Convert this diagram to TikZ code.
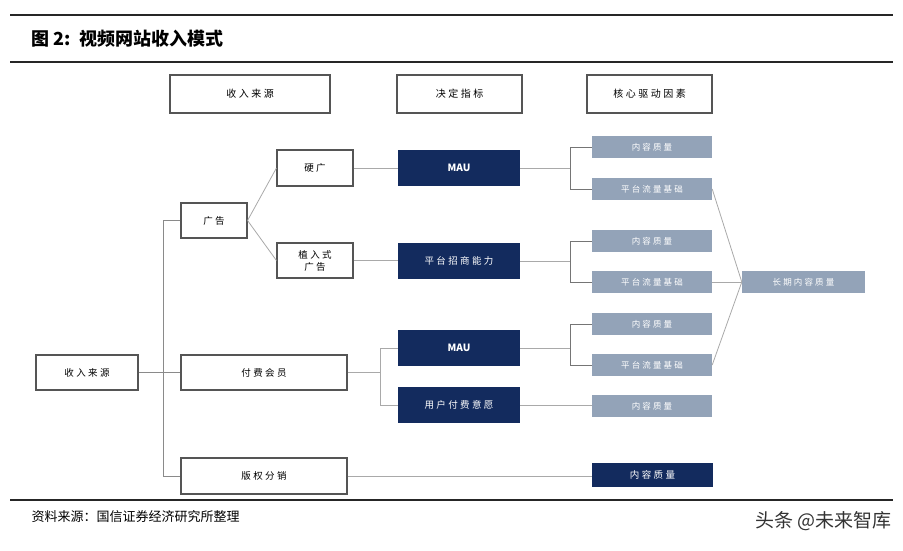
\documentclass[tikz,border=0pt]{standalone}
\usepackage{fontspec}
\setmainfont{Noto Sans CJK SC}
\definecolor{navy}{HTML}{132B5E}
\definecolor{greybox}{HTML}{93A3B8}
\definecolor{linegray}{HTML}{A9A9A9}
\definecolor{trunkgray}{HTML}{8A8A8A}
\definecolor{bordergray}{HTML}{555555}
\begin{document}
\begin{tikzpicture}[x=1pt,y=-1pt,
  sp/.style={font=\fontsize{#1}{12}\selectfont\addfontfeature{LetterSpace=25}},
  wbox/.style={draw=bordergray, line width=1.1pt, fill=white, inner sep=0pt, align=center,
    sp=9.5},
  hbox/.style={wbox, minimum width=125, minimum height=38, sp=10},
  dbox/.style={fill=navy, draw=none, text=white, inner sep=0pt, minimum width=122, minimum height=36,
    sp=9.5},
  maubox/.style={dbox, font=\fontsize{10}{12}\selectfont\bfseries},
  gbox/.style={fill=greybox, draw=none, text=white, inner sep=0pt, minimum width=120, minimum height=22,
    sp=8.5},
  conn/.style={draw=linegray, line width=0.8pt},
  tconn/.style={draw=trunkgray, line width=0.8pt},
  bconn/.style={draw=trunkgray!85!black, line width=0.9pt},
  rule/.style={line width=#1, draw=black!85}
]
\useasboundingbox (0,0) rectangle (903,551);
% frame rules
\coordinate (rl1) at (10,15);  \coordinate (rr1) at (893,15);
\coordinate (rl2) at (10,62);  \coordinate (rr2) at (893,62);
\coordinate (rl3) at (10,500); \coordinate (rr3) at (893,500);
\draw[rule=1.2pt] (rl1) -- (rr1);
\draw[rule=2.4pt] (rl2) -- (rr2);
\draw[rule=2.4pt] (rl3) -- (rr3);
\node[anchor=west, font=\fontsize{18}{20}\selectfont\bfseries] (title) at (28,39) {图 2:\, 视频网站收入模式};
\node[anchor=west, font=\fontsize{13}{15}\selectfont] (src) at (28,517) {资料来源：国信证券经济研究所整理};
\node[anchor=east, font=\fontsize{19}{21}\selectfont, text=black!80] (wm) at (895,521) {头条 @未来智库};

% header boxes
\node[hbox, minimum width=160] (h1) at (250,94) {收入来源};
\node[hbox] (h2) at (459.5,94) {决定指标};
\node[hbox] (h3) at (649.5,94) {核心驱动因素};

% revenue tree
\node[wbox, minimum width=102, minimum height=35] (root) at (87,372.5) {收入来源};
\node[wbox, minimum width=66, minimum height=35] (ad) at (214,220.5) {广告};
\node[wbox, minimum width=76, minimum height=36] (yg) at (315,168) {硬广};
\node[wbox, minimum width=76, minimum height=35] (zr) at (315,260.5) {植入式\\广告};
\node[wbox, minimum width=166, minimum height=35] (fee) at (264,372.5) {付费会员};
\node[wbox, minimum width=166, minimum height=36] (bq) at (264,476) {版权分销};

% indicators
\node[maubox] (mau1) at (459,168) {MAU};
\node[dbox] (zs) at (459,261) {平台招商能力};
\node[maubox] (mau2) at (459,348) {MAU};
\node[dbox] (yf) at (459,405) {用户付费意愿};

% drivers
\node[gbox] (g1) at (652,147) {内容质量};
\node[gbox] (g2) at (652,189) {平台流量基础};
\node[gbox] (g3) at (652,241) {内容质量};
\node[gbox] (g4) at (652,282) {平台流量基础};
\node[gbox] (g5) at (652,324) {内容质量};
\node[gbox] (g6) at (652,365) {平台流量基础};
\node[gbox] (g7) at (652,406) {内容质量};
\node[gbox, minimum width=123] (lq) at (803.5,282) {长期内容质量};
\node[dbox, minimum width=121, minimum height=24] (dq) at (652.5,475) {内容质量};

% connectors
\coordinate (tk) at (163,0);
\coordinate (b1) at (380,0);
\coordinate (b2) at (570,0);
\draw[tconn] (root.east) -- (fee.west);
\draw[tconn] (ad.west) -- (ad.west -| tk) |- (bq.west);
\draw[conn] (ad.east) -- (yg.west);
\draw[conn] (ad.east) -- (zr.west);
\draw[conn] (yg.east) -- (mau1.west);
\draw[conn] (zr.east) -- (zr.east -| zs.west);
\draw[conn] (fee.east) -- (fee.east -| b1);
\draw[conn] (mau2.west) -- (mau2.west -| b1) |- (yf.west);
\draw[conn] (mau1.east) -- (mau1.east -| b2);
\draw[bconn] (g1.west) -- (g1.west -| b2) |- (g2.west);
\draw[conn] (zs.east) -- (zs.east -| b2);
\draw[bconn] (g3.west) -- (g3.west -| b2) |- (g4.west);
\draw[conn] (mau2.east) -- (mau2.east -| b2);
\draw[bconn] (g5.west) -- (g5.west -| b2) |- (g6.west);
\draw[conn] (yf.east) -- (yf.east -| g7.west);
\draw[conn] (bq.east) -- (bq.east -| dq.west);
\draw[conn] (g2.east) -- (lq.west);
\draw[conn] (g4.east) -- (lq.west);
\draw[conn] (g6.east) -- (lq.west);
\end{tikzpicture}
\end{document}
